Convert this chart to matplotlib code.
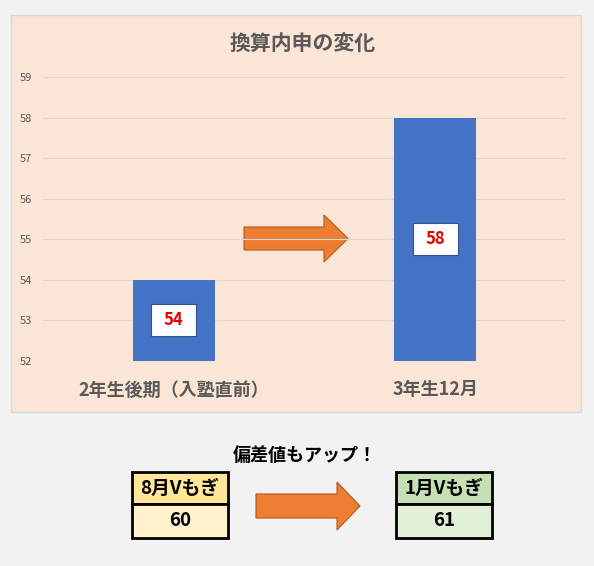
import matplotlib
matplotlib.use("Agg")
import matplotlib.pyplot as plt
from matplotlib.patches import Rectangle, FancyArrow

plt.rcParams['font.family'] = ['Noto Sans CJK JP', 'DejaVu Sans']

# chart data
categories = ["2年生後期（入塾直前）", "3年生12月"]
values = [54, 58]
y_ticks = [52, 53, 54, 55, 56, 57, 58, 59]
title = "換算内申の変化"

# bottom comparison
mogi_names = ["8月Vもぎ", "1月Vもぎ"]
mogi_scores = [60, 61]
mogi_caption = "偏差値もアップ！"

W, H = 594, 566
fig = plt.figure(figsize=(W / 100, H / 100), dpi=100)
fig.patch.set_facecolor("#f2f2f2")

# overlay in pixel coordinates for decorations
deco = fig.add_axes([0, 0, 1, 1], zorder=0)
deco.set_xlim(0, W)
deco.set_ylim(H, 0)
deco.axis("off")

# chart panel
deco.add_patch(Rectangle((11, 15), 570, 397, facecolor="#fbe5d6", edgecolor="#d9d9d9", lw=1))

px0, px1, py0, py1 = 43, 566, 77, 361
ax = fig.add_axes([px0 / W, 1 - py1 / H, (px1 - px0) / W, (py1 - py0) / H], zorder=1)
ax.patch.set_alpha(0)
x = list(range(len(categories)))
ax.bar(x, values, width=0.314, color="#4472c4", zorder=2)
ax.set_xlim(-0.5, 1.5)
ax.set_ylim(52, 59)
ax.set_yticks(y_ticks)
ax.set_xticks(x)
ax.set_xticklabels(categories, fontsize=13, fontweight="bold", color="#595959")
ax.tick_params(axis="y", labelsize=8, colors="#595959", length=0, pad=8)
ax.tick_params(axis="x", length=0, pad=14)
ax.grid(axis="y", color="#d9d9d9", lw=0.8, zorder=0)
for s in ax.spines.values():
    s.set_visible(False)

# value labels in white boxes (box size in pixels converted to data units)
ux = 2.0 / (px1 - px0)
uy = 7.0 / (py1 - py0)
bw, bh = 45 * ux, 32 * uy
for xi, v in zip(x, values):
    mid = (52 + v) / 2
    ax.add_patch(Rectangle((xi - bw / 2, mid - bh / 2), bw, bh, facecolor="white",
                           edgecolor="#2f528f", lw=0.8, zorder=3))
    ax.text(xi, mid, str(v), ha="center", va="center", fontsize=12,
            fontweight="bold", color="#e00000", zorder=4)

fig.text(303 / W, 1 - 44 / H, title, ha="center", va="center", fontsize=15,
         fontweight="bold", color="#595959")

# arrow in chart
deco.add_patch(FancyArrow(244, 238.5, 104, 0, width=23, head_width=47, head_length=24,
                          length_includes_head=True, facecolor="#ed7d31", edgecolor="#ae5a21", lw=0.8, zorder=5))

# bottom section
deco.text(305, 455, mogi_caption, ha="center", va="center", fontsize=13, fontweight="bold", color="#000000")
box_x = [132, 396]
head_fill = ["#ffe699", "#c5e0b4"]
body_fill = ["#fff2cc", "#e2f0d9"]
for bx, name, score, hf, bf in zip(box_x, mogi_names, mogi_scores, head_fill, body_fill):
    deco.add_patch(Rectangle((bx, 472), 96, 32, facecolor=hf, edgecolor="black", lw=2))
    deco.add_patch(Rectangle((bx, 504), 96, 34, facecolor=bf, edgecolor="black", lw=2))
    deco.text(bx + 48, 488, name, ha="center", va="center", fontsize=13.5, fontweight="bold")
    deco.text(bx + 48, 521, str(score), ha="center", va="center", fontsize=13.5, fontweight="bold")

deco.add_patch(FancyArrow(256, 506, 104, 0, width=24, head_width=48, head_length=23,
                          length_includes_head=True, facecolor="#ed7d31", edgecolor="#ae5a21", lw=0.8))

fig.savefig("out.png", dpi=100, facecolor=fig.get_facecolor())
